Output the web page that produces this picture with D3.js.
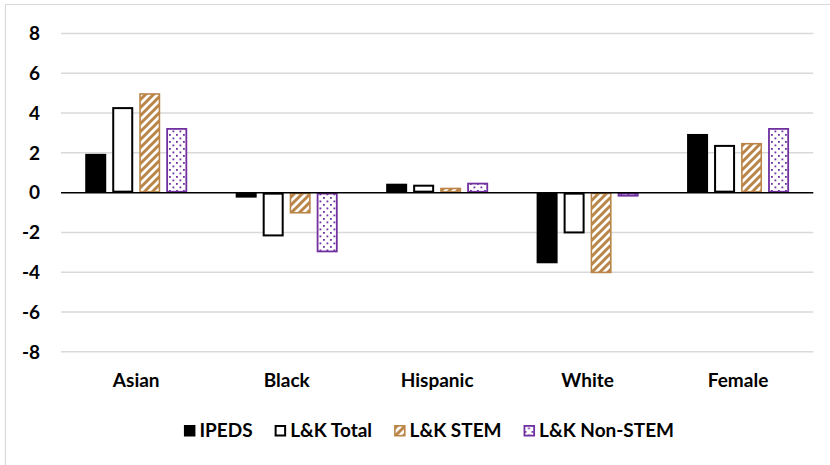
<!DOCTYPE html>
<html>
<head>
<meta charset="utf-8">
<script src="https://cdn.jsdelivr.net/npm/d3@7"></script>
<style>
  html, body { margin: 0; padding: 0; background: #fff; }
  svg { display: block; }
  text { font-family: Lato, "Open Sans", sans-serif; font-weight: bold; fill: #000; }
</style>
</head>
<body>
<svg id="chart" width="830" height="465"></svg>
<script>
const categories = ["Asian", "Black", "Hispanic", "White", "Female"];
const seriesNames = ["IPEDS", "L&K Total", "L&K STEM", "L&K Non-STEM"];
const ipeds      = [1.95, -0.25, 0.45, -3.55, 2.95];
const lkTotal    = [4.3, -2.2, 0.4, -2.05, 2.4];
const lkStem     = [5.0, -1.05, 0.25, -4.05, 2.5];
const lkNonStem  = [3.25, -3.0, 0.5, -0.2, 3.25];
const yTicks     = [-8, -6, -4, -2, 0, 2, 4, 6, 8];

const seriesValues = [ipeds, lkTotal, lkStem, lkNonStem];
const BROWN = "#BA8548", PURPLE = "#7030A0";
const FS = 19;

const svg = d3.select("#chart");
const defs = svg.append("defs");

// hatch pattern (wide upward diagonal)
const hatch = defs.append("pattern").attr("id", "hatch")
  .attr("patternUnits", "userSpaceOnUse").attr("width", 8).attr("height", 8);
hatch.append("rect").attr("width", 8).attr("height", 8).attr("fill", "#fff");
hatch.append("path").attr("d", "M-2,2 L2,-2 M0,8 L8,0 M6,10 L10,6")
  .attr("stroke", BROWN).attr("stroke-width", 3);

// dotted pattern
const dots = defs.append("pattern").attr("id", "dots")
  .attr("patternUnits", "userSpaceOnUse").attr("width", 7).attr("height", 7);
dots.append("rect").attr("width", 7).attr("height", 7).attr("fill", "#fff");
dots.append("rect").attr("x", 1).attr("y", 1).attr("width", 1.8).attr("height", 1.8).attr("fill", PURPLE);
dots.append("rect").attr("x", 4.5).attr("y", 4.5).attr("width", 1.8).attr("height", 1.8).attr("fill", PURPLE);

const styles = [
  { fill: "#000", stroke: "#000", sw: 0 },
  { fill: "#fff", stroke: "#000", sw: 2 },
  { fill: "url(#hatch)", stroke: BROWN, sw: 1.6 },
  { fill: "url(#dots)", stroke: PURPLE, sw: 1.8 }
];

// chart area border
svg.append("path").attr("d", "M5.5,470 L5.5,4.5 L840,4.5")
  .attr("fill", "none").attr("stroke", "#D9D9D9").attr("stroke-width", 1.2);

const plotL = 61, plotR = 813.3;
const y = d3.scaleLinear().domain([-8, 8]).range([351.8, 33.5]);
const x0 = d3.scaleBand().domain(categories).range([plotL, plotR]).padding(0);
const groupW = 102;
const x1 = d3.scaleBand().domain(seriesNames).range([0, groupW]).paddingInner(6 / 27).paddingOuter(0);
const off = (x0.bandwidth() - groupW) / 2;

// gridlines
svg.append("g").selectAll("line").data(yTicks.filter(t => t !== 0)).join("line")
  .attr("x1", plotL).attr("x2", plotR)
  .attr("y1", d => y(d)).attr("y2", d => y(d))
  .attr("stroke", "#D9D9D9").attr("stroke-width", 1.5);

// y labels
svg.append("g").selectAll("text").data(yTicks).join("text")
  .attr("x", 40).attr("y", d => y(d)).attr("dy", "0.36em")
  .attr("text-anchor", "end").attr("font-size", FS)
  .text(d => d);

// bars
const barData = [];
categories.forEach((c, ci) => {
  seriesNames.forEach((s, si) => {
    barData.push({ c, s, si, v: seriesValues[si][ci] });
  });
});
svg.append("g").selectAll("rect").data(barData).join("rect")
  .attr("x", d => x0(d.c) + off + x1(d.s) + styles[d.si].sw / 2)
  .attr("width", d => x1.bandwidth() - styles[d.si].sw)
  .attr("y", d => Math.min(y(d.v), y(0)) + styles[d.si].sw / 2)
  .attr("height", d => Math.max(0.5, Math.abs(y(d.v) - y(0)) - styles[d.si].sw))
  .attr("fill", d => styles[d.si].fill)
  .attr("stroke", d => styles[d.si].sw ? styles[d.si].stroke : "none")
  .attr("stroke-width", d => styles[d.si].sw);

// zero line
svg.append("line").attr("x1", plotL).attr("x2", plotR)
  .attr("y1", y(0)).attr("y2", y(0)).attr("stroke", "#000").attr("stroke-width", 1.5);

// category labels
svg.append("g").selectAll("text").data(categories).join("text")
  .attr("x", d => x0(d) + x0.bandwidth() / 2).attr("y", 387)
  .attr("text-anchor", "middle").attr("font-size", FS)
  .text(d => d);

// legend
const leg = svg.append("g");
const items = leg.selectAll("g").data(seriesNames).join("g");
items.append("rect")
  .attr("x", (d, i) => styles[i].sw / 2).attr("y", (d, i) => -12 + styles[i].sw / 2)
  .attr("width", (d, i) => 11.5 - styles[i].sw).attr("height", (d, i) => 11.5 - styles[i].sw)
  .attr("fill", (d, i) => styles[i].fill)
  .attr("stroke", (d, i) => styles[i].sw ? styles[i].stroke : "none")
  .attr("stroke-width", (d, i) => styles[i].sw);
items.append("text").attr("x", 15.5).attr("y", 0)
  .attr("font-size", FS).text(d => d);
const widths = [];
items.each(function() { widths.push(this.querySelector("text").getComputedTextLength() + 15.5); });
const gap = 22;
const total = d3.sum(widths) + gap * (widths.length - 1);
let cx = 429 - total / 2;
items.attr("transform", (d, i) => {
  const t = `translate(${cx},437)`;
  cx += widths[i] + gap;
  return t;
});
</script>
</body>
</html>
